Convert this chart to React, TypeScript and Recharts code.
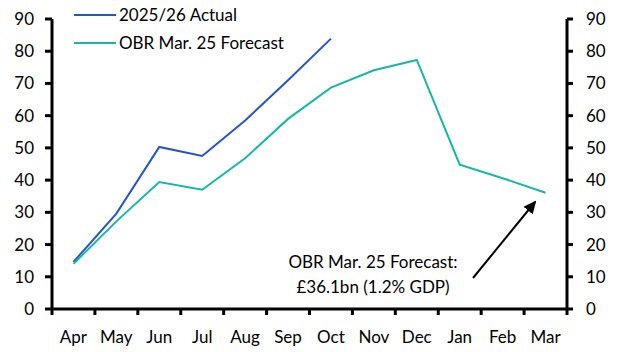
import { LineChart, Line, XAxis, YAxis } from 'recharts';

const months = ['Apr', 'May', 'Jun', 'Jul', 'Aug', 'Sep', 'Oct', 'Nov', 'Dec', 'Jan', 'Feb', 'Mar'];
const actual = [14.6, 29.6, 50.3, 47.5, 58.5, 71.0, 83.9, null, null, null, null, null];
const forecast = [14.0, 27.2, 39.4, 37.0, 46.8, 59.0, 68.7, 74.1, 77.3, 44.8, 40.6, 36.1];
const yTicks = [0, 10, 20, 30, 40, 50, 60, 70, 80, 90];

const data = months.map((m, i) => ({ month: m, actual: actual[i], forecast: forecast[i] }));

const FONT = 'Lato, "Noto Sans", sans-serif';
const BLUE = '#2453cf';
const TEAL = '#15b8a6';
const HALF = 515 / 24;

// y handed to the tick sits tickSize + tickMargin (6 + 2) below the axis line
const MonthTick = (props: any) => {
  const { x, y, payload, index } = props;
  const axisY = y - 8;
  const last = index === months.length - 1;
  return (
    <g>
      <line x1={x - HALF} x2={x - HALF} y1={axisY} y2={axisY + 6} stroke="#000" strokeWidth={3} />
      {last && <line x1={x + HALF} x2={x + HALF} y1={axisY} y2={axisY + 6} stroke="#000" strokeWidth={3} />}
      <text x={x} y={axisY + 28} dy="0.35em" textAnchor="middle" fontSize={17} fontFamily={FONT} fill="#000">
        {payload.value}
      </text>
    </g>
  );
};

export default function App() {
  const tickStyle = { fontSize: 17, fill: '#000', fontFamily: FONT };
  return (
    <div style={{ position: 'absolute', left: 0, top: 0, width: 627, height: 352 }}>
      <LineChart width={627} height={352} data={data} margin={{ top: 19, right: 0, bottom: 0, left: 0 }}>
        <XAxis
          dataKey="month"
          height={43}
          stroke="#000"
          strokeWidth={3}
          tickLine={false}
          tick={<MonthTick />}
          interval={0}
          padding={{ left: HALF, right: HALF }}
        />
        <YAxis
          yAxisId="left"
          orientation="left"
          width={52}
          domain={[0, 90]}
          ticks={yTicks}
          stroke="#000"
          strokeWidth={3}
          tickSize={7}
          tickMargin={11}
          tick={tickStyle}
        />
        <YAxis
          yAxisId="right"
          orientation="right"
          width={60}
          domain={[0, 90]}
          ticks={yTicks}
          stroke="#000"
          strokeWidth={3}
          tickSize={6}
          tickMargin={13}
          tick={tickStyle}
        />
        <Line yAxisId="left" dataKey="actual" stroke={BLUE} strokeWidth={2} dot={false} isAnimationActive={false} />
        <Line yAxisId="right" dataKey="forecast" stroke={TEAL} strokeWidth={2} dot={false} isAnimationActive={false} />
      </LineChart>
      <svg width={627} height={352} style={{ position: 'absolute', left: 0, top: 0, pointerEvents: 'none' }}>
        <defs>
          <marker id="arrowHead" markerWidth={13} markerHeight={12} refX={11} refY={6} orient="auto" markerUnits="userSpaceOnUse">
            <path d="M0,0 L13,6 L0,12 z" fill="#000" />
          </marker>
        </defs>
        <line x1={74} x2={116} y1={15} y2={15} stroke={BLUE} strokeWidth={2} />
        <text x={119} y={15} dy="0.35em" fontSize={17} fill="#000" fontFamily={FONT}>2025/26 Actual</text>
        <line x1={74} x2={116} y1={43} y2={43} stroke={TEAL} strokeWidth={2} />
        <text x={119} y={43} dy="0.35em" fontSize={17} fill="#000" fontFamily={FONT}>OBR Mar. 25 Forecast</text>
        <line x1={473} y1={278} x2={535} y2={202} stroke="#000" strokeWidth={2} markerEnd="url(#arrowHead)" />
        <text x={373} y={262} dy="0.35em" textAnchor="middle" fontSize={17} fontFamily={FONT} fill="#000">OBR Mar. 25 Forecast:</text>
        <text x={373} y={287} dy="0.35em" textAnchor="middle" fontSize={17} fontFamily={FONT} fill="#000">£36.1bn (1.2% GDP)</text>
      </svg>
    </div>
  );
}
